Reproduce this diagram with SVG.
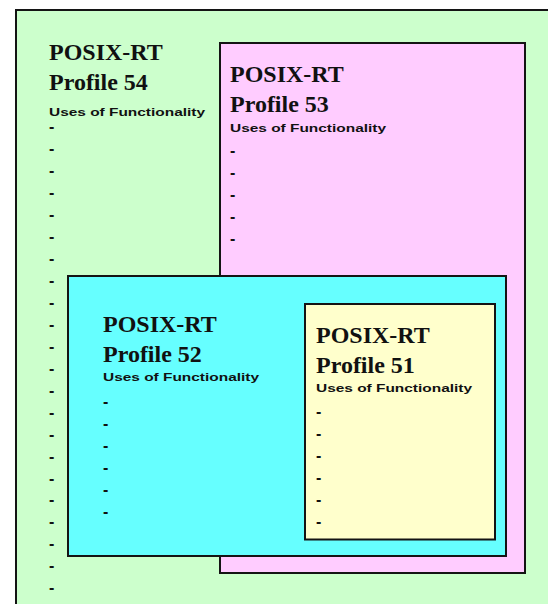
<svg xmlns="http://www.w3.org/2000/svg" width="548" height="604" viewBox="0 0 548 604">
  <style>
    .box { stroke: #141414; stroke-width: 2; }
    .title { font-family: "Liberation Serif", "Times New Roman", serif; font-weight: bold; font-size: 24px; fill: #111; }
    .sub { font-family: "Liberation Sans", Arial, sans-serif; font-weight: bold; font-size: 10px; fill: #111; }
    .dash { font-family: "Liberation Sans", Arial, sans-serif; font-weight: bold; font-size: 16px; fill: #111; }
  </style>
  <rect width="548" height="604" fill="#ffffff"/>

  <!-- Profile 54: outermost set, runs past the right and bottom edges -->
  <g id="profile54">
    <rect class="box" x="16" y="10" width="600" height="700" fill="#ccffcc"/>
    <text class="title" x="49" y="59.5">POSIX-RT</text>
    <text class="title" x="49" y="90">Profile 54</text>
    <text class="sub" x="49" y="116" textLength="156" lengthAdjust="spacingAndGlyphs">Uses of Functionality</text>
    <text class="dash" x="49" y="132.3">-<tspan x="49" dy="21.95">-</tspan><tspan x="49" dy="21.95">-</tspan><tspan x="49" dy="21.95">-</tspan><tspan x="49" dy="21.95">-</tspan><tspan x="49" dy="21.95">-</tspan><tspan x="49" dy="21.95">-</tspan><tspan x="49" dy="21.95">-</tspan><tspan x="49" dy="21.95">-</tspan><tspan x="49" dy="21.95">-</tspan><tspan x="49" dy="21.95">-</tspan><tspan x="49" dy="21.95">-</tspan><tspan x="49" dy="21.95">-</tspan><tspan x="49" dy="21.95">-</tspan><tspan x="49" dy="21.95">-</tspan><tspan x="49" dy="21.95">-</tspan><tspan x="49" dy="21.95">-</tspan><tspan x="49" dy="21.95">-</tspan><tspan x="49" dy="21.95">-</tspan><tspan x="49" dy="21.95">-</tspan><tspan x="49" dy="21.95">-</tspan><tspan x="49" dy="21.95">-</tspan></text>
  </g>

  <!-- Profile 53 -->
  <g id="profile53">
    <rect class="box" x="220" y="43" width="305" height="530" fill="#ffccff"/>
    <text class="title" x="230" y="82">POSIX-RT</text>
    <text class="title" x="230" y="112">Profile 53</text>
    <text class="sub" x="230" y="132" textLength="156" lengthAdjust="spacingAndGlyphs">Uses of Functionality</text>
    <text class="dash" x="230" y="156.3">-<tspan x="230" dy="22">-</tspan><tspan x="230" dy="22">-</tspan><tspan x="230" dy="22">-</tspan><tspan x="230" dy="22">-</tspan></text>
  </g>

  <!-- Profile 52 -->
  <g id="profile52">
    <rect class="box" x="68" y="276" width="438" height="280" fill="#66ffff"/>
    <text class="title" x="103" y="332">POSIX-RT</text>
    <text class="title" x="103" y="362">Profile 52</text>
    <text class="sub" x="103" y="381" textLength="156" lengthAdjust="spacingAndGlyphs">Uses of Functionality</text>
    <text class="dash" x="103" y="407.3">-<tspan x="103" dy="21.9">-</tspan><tspan x="103" dy="21.9">-</tspan><tspan x="103" dy="21.9">-</tspan><tspan x="103" dy="21.9">-</tspan><tspan x="103" dy="21.9">-</tspan></text>
  </g>

  <!-- Profile 51: innermost set -->
  <g id="profile51">
    <rect class="box" x="305" y="304" width="190" height="235.5" fill="#ffffcc"/>
    <text class="title" x="316" y="343">POSIX-RT</text>
    <text class="title" x="316" y="373">Profile 51</text>
    <text class="sub" x="316" y="392" textLength="156" lengthAdjust="spacingAndGlyphs">Uses of Functionality</text>
    <text class="dash" x="316" y="417.3">-<tspan x="316" dy="22">-</tspan><tspan x="316" dy="22">-</tspan><tspan x="316" dy="22">-</tspan><tspan x="316" dy="22">-</tspan><tspan x="316" dy="22">-</tspan></text>
  </g>

  <g id="connectors"/>
</svg>
